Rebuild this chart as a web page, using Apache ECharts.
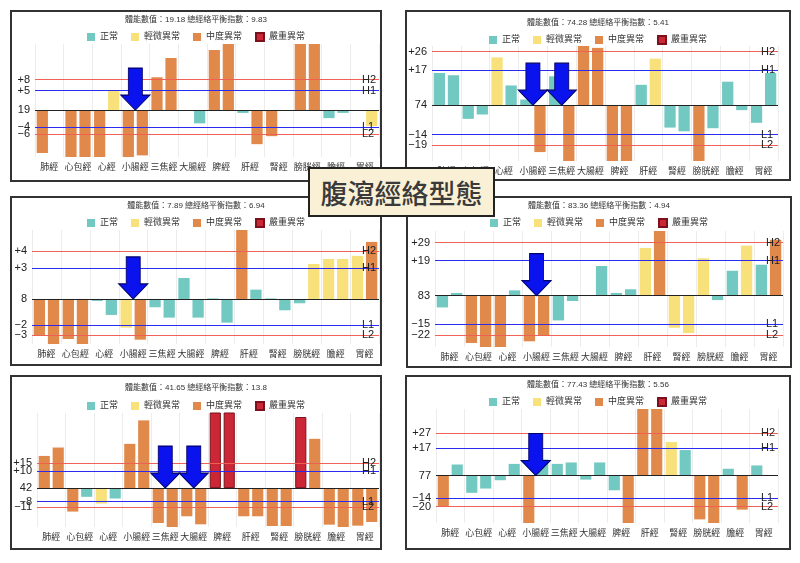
<!DOCTYPE html>
<html>
<head>
<meta charset="utf-8">
<script src="https://cdn.jsdelivr.net/npm/echarts@6/dist/echarts.min.js"></script>
<style>
  html, body { margin: 0; padding: 0; background: #fff; }
  body { position: relative; width: 800px; height: 563px; overflow: hidden; }
  .panel { position: absolute; border: 2px solid #333; box-sizing: border-box; background: #fff; }
  .panel .chart { width: 100%; height: 100%; }
  .heading {
    position: absolute; left: 308px; top: 167px; width: 187px; height: 50px;
    box-sizing: border-box; border: 2px solid #222; background: #faf0d6;
    display: flex; align-items: center; justify-content: center;
    font: 500 27px 'Noto Sans CJK TC', sans-serif; color: #3a3a3a; z-index: 5;
  }
</style>
</head>
<body>
<div class="heading">腹瀉經絡型態</div>
<script>
const meridians = ['肺經', '心包經', '心經', '小腸經', '三焦經', '大腸經', '脾經', '肝經', '腎經', '膀胱經', '膽經', '胃經']
const levelNames = ['正常', '輕微異常', '中度異常', '嚴重異常']
const limitNames = ['H2', 'H1', 'L1', 'L2']

const stamina = [19.18, 74.28, 7.89, 83.36, 41.65, 77.43]
const balance = [9.83, 5.41, 6.94, 4.94, 13.8, 5.56]
// H2, H1, L1, L2 (offset from stamina value)
const limits = [
  [7.6, 4.9, -4.25, -6],
  [25.8, 16.8, -14.2, -19.4],
  [4.09, 2.66, -2.23, -3.09],
  [28.9, 19.1, -15.4, -21.6],
  [15, 10, -8, -11.2],
  [26.8, 17.2, -14.3, -19.8]
]
const yRange = [[-11.7, 16.5], [-26.9, 28.5], [-3.86, 5.91], [-28, 35.3], [-23.2, 44.8], [-30.2, 42.3]]
const arrows = [['小腸經'], ['小腸經', '三焦經'], ['小腸經'], ['小腸經'], ['三焦經', '大腸經'], ['小腸經']]

// left / right values, levels: 0 正常 1 輕微 2 中度 3 嚴重
const left1 = [-10.7, -12.5, -12.5, -12.5, 8.2, 0, 15, -0.7, -6.5, 20, -2, 0]
const right1 = [0, -12.5, 4.8, -11.3, 13, -3.3, 20, -8.5, 0, 20, -0.7, -4]
const lvLeft1 = [2, 2, 2, 2, 2, 0, 2, 0, 2, 2, 0, 0]
const lvRight1 = [0, 2, 1, 2, 2, 0, 2, 2, 0, 2, 0, 1]

const left2 = [15.5, -6.6, 23, 2.7, 13.9, 30, -28, 9.8, -10.8, -28, 11.3, -8.5]
const right2 = [14.4, -4.5, 9.5, -22.6, -28, 27.6, -28, 22.4, -12.6, -11.1, -2.4, 15.5]
const lvLeft2 = [0, 0, 1, 0, 0, 2, 2, 0, 0, 2, 0, 0]
const lvRight2 = [0, 0, 0, 2, 2, 2, 2, 1, 0, 0, 0, 0]

const left3 = [-3.09, -3.43, -0.17, -2.46, -0.71, 1.8, 0.05, 6.5, 0.05, -0.37, 3.43, 3.69]
const right3 = [-4.2, -4.2, -1.37, -3.49, -1.6, -1.6, -2.03, 0.8, -0.97, 3.0, 3.43, 4.89]
const lvLeft3 = [2, 2, 0, 1, 0, 0, 0, 2, 0, 0, 1, 1]
const lvRight3 = [2, 2, 0, 2, 0, 0, 0, 0, 0, 1, 1, 2]

const left4 = [-6.4, -25.8, -29, -24.9, -13.5, 0, 1.5, 26, -17.5, 20.4, 13.6, 16.9]
const right4 = [1.5, -29, 2.9, -22, -2.9, 16.2, 3.5, 37, -20.4, -2.4, 27.3, 30.5]
const lvLeft4 = [0, 2, 2, 2, 0, 0, 0, 1, 1, 1, 0, 0]
const lvRight4 = [0, 2, 0, 2, 0, 0, 0, 2, 1, 0, 1, 2]

const left5 = [19.2, -14, -9.2, 26.4, -20.8, -16.8, 48, -16.8, -22.6, 42.4, -21.8, -22.4]
const right5 = [24.2, -5.2, -6.2, 40.4, -24, -21.6, 48, -16.8, -22.6, 29.4, -24, -20.2]
const lvLeft5 = [2, 2, 1, 2, 2, 2, 3, 2, 2, 3, 2, 2]
const lvRight5 = [2, 0, 0, 2, 2, 2, 3, 2, 2, 2, 2, 2]

const left6 = [-20, -11, -3, -31, 7.4, -2.6, -9.4, 44, 21.3, -27.9, 4.3, 6.4]
const right6 = [7, -8.3, 7.4, 10.2, 8.3, 8.3, -31, 44, 16.2, -31, -21.7, 0]
const lvLeft6 = [2, 0, 0, 2, 0, 0, 0, 2, 1, 2, 0, 0]
const lvRight6 = [0, 0, 0, 0, 0, 0, 2, 2, 0, 2, 2, 0]

const lefts = [left1, left2, left3, left4, left5, left6]
const rights = [right1, right2, right3, right4, right5, right6]
const lvLefts = [lvLeft1, lvLeft2, lvLeft3, lvLeft4, lvLeft5, lvLeft6]
const lvRights = [lvRight1, lvRight2, lvRight3, lvRight4, lvRight5, lvRight6]

const levelColors = ['#72c9c1', '#f8e07a', '#e1884b', '#cc2737']
const lineRed = 'rgba(240, 95, 85, 0.85)'
const lineBlue = 'rgba(40, 40, 240, 0.85)'
const font = "'Liberation Sans', 'Noto Sans CJK TC', sans-serif"

// panel boxes on the page, grid = [left, right, top, bottom]
const panels = [
  { left: 10, top: 10, w: 372, h: 172, grid: [23, 1, 32, 23], titleTop: 4, legendTop: 20 },
  { left: 405, top: 10, w: 386, h: 171, grid: [25, 11, 34, 18], titleTop: 7, legendTop: 23 },
  { left: 10, top: 196, w: 372, h: 170, grid: [20, 1, 32, 20], titleTop: 4, legendTop: 20 },
  { left: 406, top: 196, w: 386, h: 172, grid: [27, 7, 33, 19], titleTop: 4, legendTop: 20 },
  { left: 10, top: 375, w: 372, h: 175, grid: [25, 1, 36, 21], titleTop: 7, legendTop: 24 },
  { left: 405, top: 375, w: 386, h: 175, grid: [29, 11, 32, 25], titleTop: 4, legendTop: 20 }
]

function signed(v) {
  const r = Math.round(v)
  return (r > 0 ? '+' : '−') + Math.abs(r)
}

function limitLine(value, color, leftText, rightText) {
  // one line with its value label on the left and its name on the right
  return [
    {
      yAxis: value,
      lineStyle: { color: color, type: 'solid', width: 1 },
      label: { show: true, position: 'start', formatter: leftText, distance: 5, fontSize: 11, color: '#222', fontFamily: font }
    },
    {
      yAxis: value,
      lineStyle: { color: color, type: 'solid', width: 1, opacity: rightText ? 1 : 0 },
      label: { show: !!rightText, position: 'end', formatter: rightText || '', distance: -17, fontSize: 11, color: '#222', fontFamily: font }
    }
  ]
}

function buildOption(i, p) {
  const lim = limits[i]
  const series = []
  ;[['L', lefts[i], lvLefts[i]], ['R', rights[i], lvRights[i]]].forEach(([stack, vals, lv]) => {
    levelNames.forEach((name, k) => {
      series.push({
        name: name,
        type: 'bar',
        stack: stack,
        barCategoryGap: '12%',
        barGap: '25%',
        data: vals.map((v, j) => (lv[j] === k ? v : '-')),
        itemStyle: {
          color: levelColors[k],
          borderColor: k === 3 ? '#7a111c' : levelColors[k],
          borderWidth: k === 3 ? 1 : 0
        }
      })
    })
  })

  const colors = [lineRed, lineBlue, lineBlue, lineRed]
  let lines = []
  lim.forEach((v, k) => {
    lines = lines.concat(limitLine(v, colors[k], signed(v), limitNames[k]))
  })
  lines = lines.concat(limitLine(0, '#222', String(Math.round(stamina[i])), null))

  // H2 / H1 / L1 / L2 and baseline
  series.push({
    type: 'line',
    data: [],
    z: 3,
    silent: true,
    markLine: {
      silent: true,
      symbol: 'none',
      lineStyle: { type: 'solid', width: 1 },
      data: lines
    }
  })
  series.push({
    type: 'scatter',
    z: 10,
    silent: true,
    data: arrows[i].map(c => [c, 0]),
    symbol: 'path://M7.5,0L21.5,0L21.5,27L29,27L14.5,42L0,27L7.5,27Z',
    symbolSize: [29, 42],
    symbolOffset: [0, '-50%'],
    itemStyle: { color: '#0a12ee', borderColor: '#00006a', borderWidth: 1, opacity: 1 }
  })

  return {
    animation: false,
    textStyle: { fontFamily: font },
    title: {
      text: '體能數值：' + stamina[i] + ' 總經絡平衡指數：' + balance[i],
      left: 'center',
      top: p.titleTop,
      padding: 0,
      textStyle: { fontSize: 8, fontWeight: 'normal', color: '#333', fontFamily: font }
    },
    legend: {
      data: levelNames,
      top: p.legendTop,
      left: 'center',
      padding: 0,
      icon: 'rect',
      itemWidth: 8,
      itemHeight: 8,
      itemGap: 13,
      textStyle: { fontSize: 9, color: '#333', fontFamily: font }
    },
    grid: { left: p.grid[0], right: p.grid[1], top: p.grid[2], bottom: p.grid[3] },
    xAxis: {
      type: 'category',
      data: meridians,
      axisLine: { show: false },
      axisTick: { show: false },
      axisLabel: { interval: 0, fontSize: 9, color: '#333', margin: 6 },
      splitLine: { show: true, lineStyle: { color: '#ececec' } }
    },
    yAxis: {
      type: 'value',
      min: yRange[i][0],
      max: yRange[i][1],
      axisLine: { show: false },
      axisTick: { show: false },
      splitLine: { show: false },
      axisLabel: { show: false }
    },
    series: series
  }
}

panels.forEach((p, i) => {
  const box = document.createElement('div')
  box.className = 'panel'
  box.style.left = p.left + 'px'
  box.style.top = p.top + 'px'
  box.style.width = p.w + 'px'
  box.style.height = p.h + 'px'
  const el = document.createElement('div')
  el.className = 'chart'
  box.appendChild(el)
  document.body.appendChild(box)
  const chart = echarts.init(el, null, { renderer: 'canvas' })
  chart.setOption(buildOption(i, p))
})
</script>
</body>
</html>
